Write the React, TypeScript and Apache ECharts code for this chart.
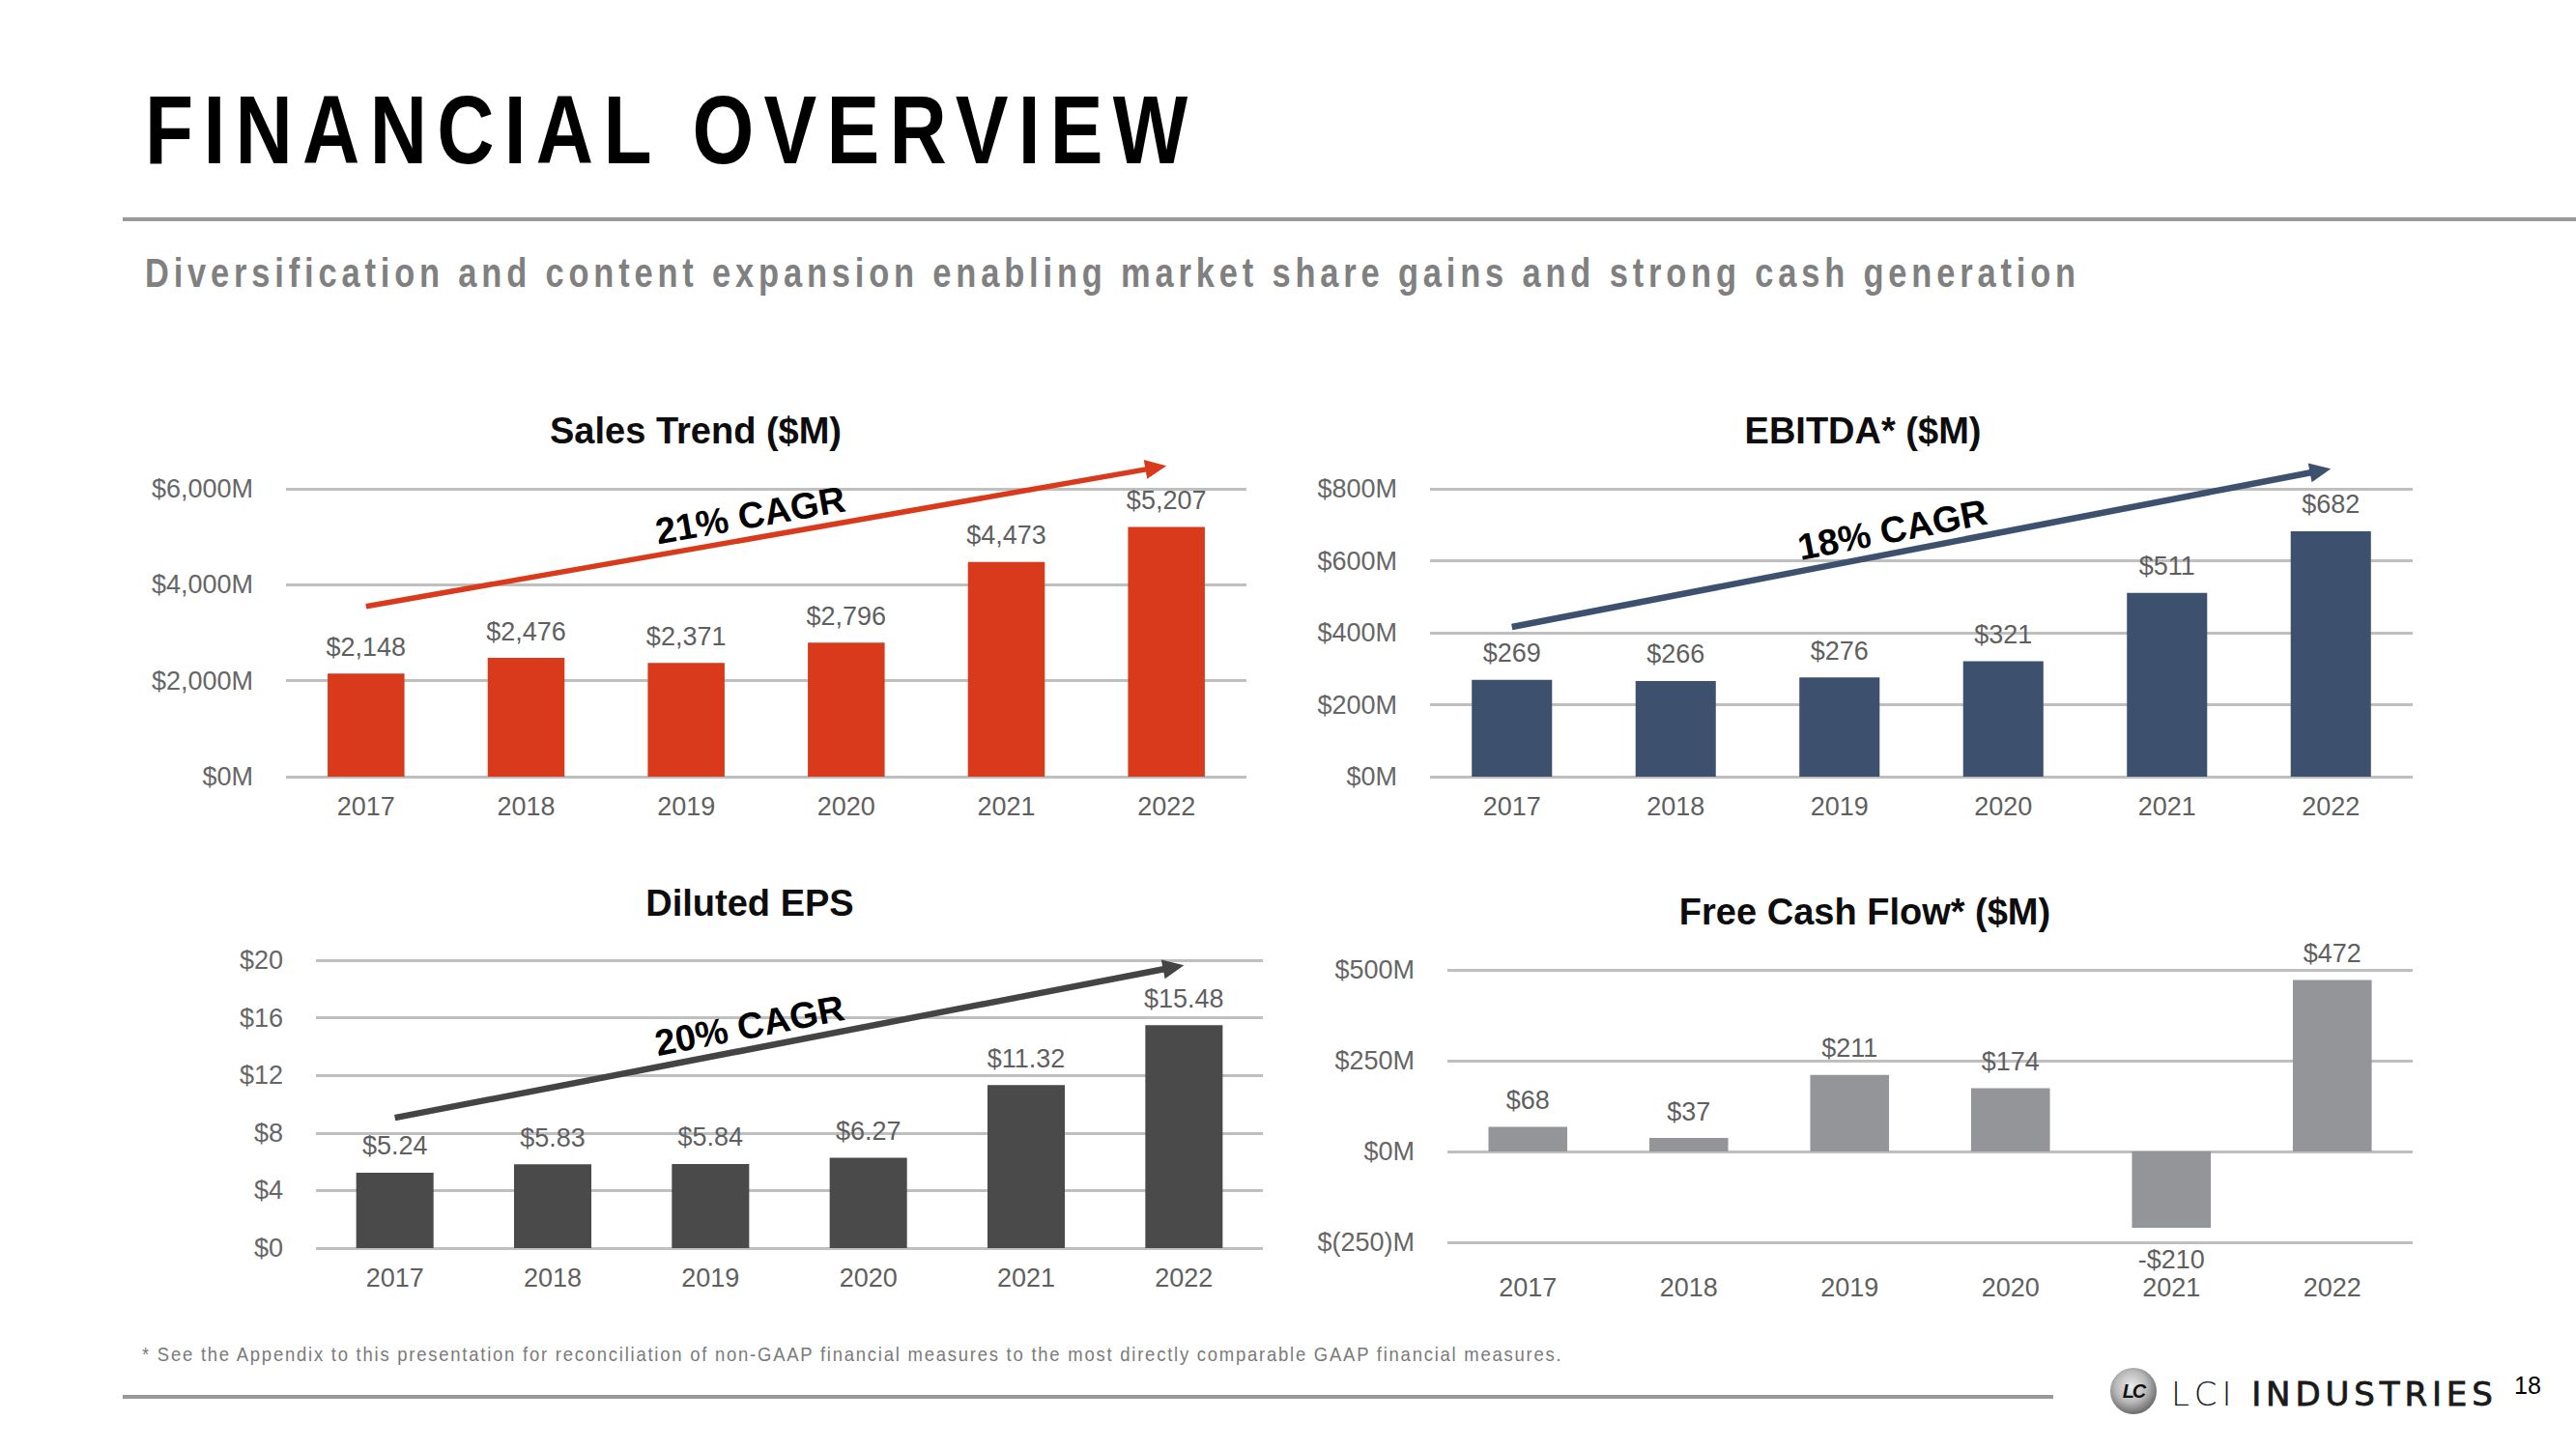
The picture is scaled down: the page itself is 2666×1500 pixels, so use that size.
import React, { useEffect, useRef } from "react";
import * as echarts from "echarts";

// ---------- data ----------
const YEARS = ["2017", "2018", "2019", "2020", "2021", "2022"];
const SALES = [2148, 2476, 2371, 2796, 4473, 5207];
const EBITDA = [269, 266, 276, 321, 511, 682];
const EPS = [5.24, 5.83, 5.84, 6.27, 11.32, 15.48];
const FCF = [68, 37, 211, 174, -210, 472];

const SALES_TICKS = ["$0M", "$2,000M", "$4,000M", "$6,000M"];
const EBITDA_TICKS = ["$0M", "$200M", "$400M", "$600M", "$800M"];
const EPS_TICKS = ["$0", "$4", "$8", "$12", "$16", "$20"];
const FCF_TICKS = ["$(250)M", "$0M", "$250M", "$500M"];

const CAGR_TEXT = ["21% CAGR", "18% CAGR", "20% CAGR"];
const ARROW_START = [3550, 416, 9.05];
const ARROW_END = [6480, 856, 19.65];

const W = 2666;
const H = 1500;
const FONT = '"Liberation Sans", Arial, Helvetica, sans-serif';

const money = (v: number) => "$" + v.toLocaleString("en-US");

const PANELS = [
  {
    title: "Sales Trend ($M)", tx: 720, ty: 446,
    grid: { left: 296, top: 506, width: 994, height: 298 },
    min: 0, max: 6000, interval: 2000, ticks: SALES_TICKS,
    data: SALES, color: "#D93A1B", barWidth: "48%", xMargin: 17,
    fmt: (v: number) => money(v),
  },
  {
    title: "EBITDA* ($M)", tx: 1928, ty: 446,
    grid: { left: 1480, top: 506, width: 1017, height: 298 },
    min: 0, max: 800, interval: 200, ticks: EBITDA_TICKS,
    data: EBITDA, color: "#3D506E", barWidth: "49%", xMargin: 17,
    fmt: (v: number) => money(v),
  },
  {
    title: "Diluted EPS", tx: 776, ty: 935,
    grid: { left: 327, top: 994, width: 980, height: 298 },
    min: 0, max: 20, interval: 4, ticks: EPS_TICKS,
    data: EPS, color: "#4A4A4A", barWidth: "49%", xMargin: 17,
    fmt: (v: number) => "$" + v.toFixed(2),
  },
  {
    title: "Free Cash Flow* ($M)", tx: 1930, ty: 944,
    grid: { left: 1498, top: 1004, width: 999, height: 282 },
    min: -250, max: 500, interval: 250, ticks: FCF_TICKS,
    data: FCF, color: "#939598", barWidth: "49%", xMargin: 33,
    fmt: (v: number) => (v < 0 ? "-$" + Math.abs(v) : "$" + v),
  },
];

const ARROW_COLORS = ["#D93A1B", "#3D506E", "#444444"];
const CAGR_T = [0.485, 0.47, 0.455];

function buildOption() {
  return {
    animation: false,
    backgroundColor: "#ffffff",
    textStyle: { fontFamily: FONT },
    grid: PANELS.map((p) => ({ ...p.grid, containLabel: false })),
    xAxis: PANELS.map((p, i) => ({
      type: "category",
      gridIndex: i,
      data: YEARS,
      axisLine: { show: false, onZero: false },
      axisTick: { show: false },
      axisLabel: { margin: p.xMargin, fontSize: 27, color: "#5f5f5f", fontFamily: FONT },
    })),
    yAxis: PANELS.map((p, i) => ({
      type: "value",
      gridIndex: i,
      min: p.min,
      max: p.max,
      interval: p.interval,
      axisLine: { show: false },
      axisTick: { show: false },
      splitLine: { show: true, lineStyle: { color: "#BFBFBF", width: 3 } },
      axisLabel: {
        margin: 34,
        fontSize: 27,
        color: "#666666",
        fontFamily: FONT,
        formatter: (_v: number, idx: number) => p.ticks[idx] ?? "",
      },
    })),
    series: PANELS.map((p, i) => ({
      type: "bar",
      xAxisIndex: i,
      yAxisIndex: i,
      barWidth: p.barWidth,
      itemStyle: { color: p.color },
      data: p.data.map((v) =>
        v < 0 ? { value: v, label: { position: "bottom", distance: 20 } } : v
      ),
      label: {
        show: true,
        position: "top",
        distance: 14,
        fontSize: 27,
        color: "#5f5f5f",
        fontFamily: FONT,
        formatter: (q: any) => p.fmt(q.value as number),
      },
    })),
  };
}

function buildGraphic(chart: any) {
  const els: any[] = [];
  PANELS.forEach((p) => {
    els.push({
      type: "text",
      x: p.tx,
      y: p.ty,
      style: {
        text: p.title,
        fontSize: 38,
        fontWeight: "bold",
        fontFamily: FONT,
        fill: "#0d0d0d",
        align: "center",
        verticalAlign: "middle",
      },
    });
  });
  for (let i = 0; i < 3; i++) {
    const a = chart.convertToPixel({ gridIndex: i }, [YEARS[0], ARROW_START[i]]);
    const b = chart.convertToPixel({ gridIndex: i }, [YEARS[YEARS.length - 1], ARROW_END[i]]);
    const dx = b[0] - a[0];
    const dy = b[1] - a[1];
    const len = Math.sqrt(dx * dx + dy * dy);
    const ux = dx / len;
    const uy = dy / len;
    const headL = 22;
    const headW = 10;
    const bx = b[0] - ux * headL;
    const by = b[1] - uy * headL;
    const nx = uy; // perpendicular pointing up
    const ny = -ux;
    els.push({
      type: "line",
      shape: { x1: a[0], y1: a[1], x2: bx + ux * 2, y2: by + uy * 2 },
      style: { stroke: ARROW_COLORS[i], lineWidth: i === 0 ? 5.5 : 6.5 },
    });
    els.push({
      type: "polygon",
      shape: {
        points: [
          [b[0], b[1]],
          [bx + nx * headW, by + ny * headW],
          [bx - nx * headW, by - ny * headW],
        ],
      },
      style: { fill: ARROW_COLORS[i] },
    });
    const t = CAGR_T[i];
    const off = 24;
    els.push({
      type: "text",
      x: a[0] + dx * t + nx * off,
      y: a[1] + dy * t + ny * off,
      rotation: -Math.atan2(dy, dx),
      style: {
        text: CAGR_TEXT[i],
        fontSize: 38,
        fontWeight: "bold",
        fontFamily: FONT,
        fill: "#000000",
        align: "center",
        verticalAlign: "middle",
      },
    });
  }
  return els;
}

export default function App() {
  const ref = useRef<HTMLDivElement>(null);
  useEffect(() => {
    document.body.style.margin = "0";
    document.body.style.overflow = "hidden";
    document.documentElement.style.overflow = "hidden";
    const chart = echarts.init(ref.current as HTMLDivElement, null, {
      renderer: "svg",
      width: W,
      height: H,
    });
    chart.setOption(buildOption() as any);
    chart.setOption({ graphic: buildGraphic(chart) } as any);
    return () => chart.dispose();
  }, []);

  const abs = (s: React.CSSProperties): React.CSSProperties => ({
    position: "absolute",
    whiteSpace: "nowrap",
    pointerEvents: "none",
    ...s,
  });
  const narrow: React.CSSProperties = { transform: "scaleX(0.82)", transformOrigin: "0 0" };

  return (
    <div
      style={{
        position: "absolute",
        left: 0,
        top: 0,
        width: W,
        height: H,
        background: "#ffffff",
        overflow: "hidden",
        fontFamily: FONT,
      }}
    >
      <div ref={ref} style={{ position: "absolute", left: 0, top: 0, width: W, height: H }} />
      <div
        style={abs({
          left: 150,
          top: 84,
          fontFamily: FONT,
          fontWeight: 700,
          fontSize: 100,
          lineHeight: "100px",
          letterSpacing: "12.6px",
          color: "#000",
          ...narrow,
        })}
      >
        FINANCIAL OVERVIEW
      </div>
      <div style={abs({ left: 127, top: 225, width: W - 127, height: 4, background: "#999999" })} />
      <div
        style={abs({
          left: 150,
          top: 262,
          fontFamily: FONT,
          fontWeight: 700,
          fontSize: 42,
          lineHeight: "42px",
          letterSpacing: "5.9px",
          color: "#808080",
          ...narrow,
        })}
      >
        Diversification and content expansion enabling market share gains and strong cash generation
      </div>
      <div
        style={abs({
          left: 147,
          top: 1391,
          fontFamily: FONT,
          fontSize: 21,
          lineHeight: "21px",
          letterSpacing: "2px",
          color: "#7a7a7a",
          transform: "scaleX(0.88)",
          transformOrigin: "0 0",
        })}
      >
        * See the Appendix to this presentation for reconciliation of non-GAAP financial measures to the most directly comparable GAAP financial measures.
      </div>
      <div style={abs({ left: 127, top: 1444, width: 1998, height: 4, background: "#999999" })} />
      <div
        style={abs({
          left: 2184,
          top: 1416,
          width: 48,
          height: 48,
          borderRadius: "50%",
          background:
            "radial-gradient(circle at 45% 40%, #ececec 0%, #b8b8b8 42%, #6a6a6a 74%, #3a3a3a 100%)",
          display: "flex",
          alignItems: "center",
          justifyContent: "center",
          fontFamily: FONT,
          fontWeight: 700,
          fontStyle: "italic",
          fontSize: 20,
          color: "#111",
          letterSpacing: "-2px",
        })}
      >
        LC
      </div>
      <div
        style={abs({
          left: 2247,
          top: 1426,
          fontFamily: '"DejaVu Sans", sans-serif',
          fontSize: 34,
          lineHeight: "34px",
          letterSpacing: "4.9px",
          color: "#1a1a1a",
        })}
      >
        <span style={{ fontWeight: 200 }}>LCI </span>
        <span style={{ fontWeight: 400, WebkitTextStroke: "0.8px #1a1a1a" } as any}>INDUSTRIES</span>
      </div>
      <div
        style={abs({
          left: 2602,
          top: 1422,
          fontFamily: FONT,
          fontSize: 25,
          lineHeight: "25px",
          color: "#000",
        })}
      >
        18
      </div>
    </div>
  );
}
